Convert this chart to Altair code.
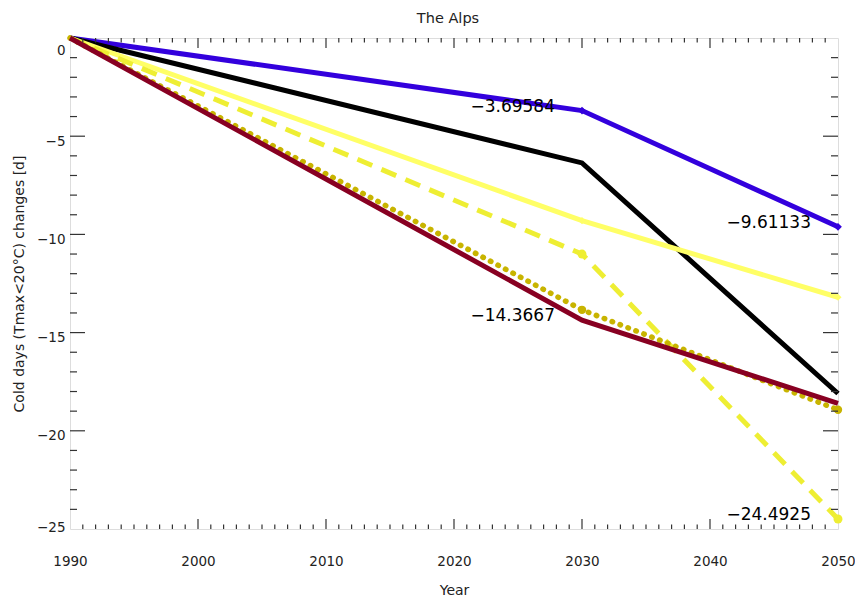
import altair as alt
import pandas as pd

# Scenario years and projected changes in cold days (Tmax < 20°C), in days
years = [1990, 2030, 2050]
blue_vals = [0.0, -3.69584, -9.61133]
black_vals = [0.0, -6.36, -18.1]
yellow_vals = [0.0, -9.3, -13.2]
yellow_dash_vals = [0.0, -11.0, -24.4925]
olive_dot_vals = [0.0, -13.84, -18.93]
red_vals = [0.0, -14.3667, -18.6]

# Values printed next to selected points
label_years = [2030, 2030, 2050, 2050]
label_vals = [-3.69584, -14.3667, -9.61133, -24.4925]

# Axis tick values
x_major = [2000, 2010, 2020, 2030, 2040]
x_minor = [y for y in range(1991, 2050) if y % 10 != 0]
y_major = [-20, -15, -10, -5]
y_minor = [v for v in range(-24, 0) if v % 5 != 0]
x_labels = [1990, 2000, 2010, 2020, 2030, 2040, 2050]
y_labels = [-25, -20, -15, -10, -5, 0]

chart_title = ["The Alps"]

W, H = 768, 491
FONT = "DejaVu Sans"

x_scale = alt.Scale(domain=[1990, 2050], nice=False, zero=False)
y_scale = alt.Scale(domain=[-25, 0], nice=False, zero=False)

x_axis = alt.Axis(values=x_labels, format="d", ticks=False, domain=False, grid=False,
                  labelFlush=False, labelPadding=25, labelFontSize=13.5, labelFont=FONT,
                  labelColor="#222", title="Year", titleFont=FONT, titleFontSize=14,
                  titleFontWeight="normal", titleColor="#222", titlePadding=16)
y_axis = alt.Axis(values=y_labels, ticks=False, domain=False, grid=False,
                  labelPadding=5, labelFontSize=13.5, labelFont=FONT, labelColor="#222",
                  labelFlush=True, labelOffset=5,
                  title="Cold days (Tmax<20°C) changes [d]", titleFont=FONT, titleFontSize=14,
                  titleFontWeight="normal", titleColor="#222", titlePadding=10)


def series(vals, color, dash=None, cap="butt", marker=None, msize=60, width=5):
    df = pd.DataFrame({"year": years, "value": vals})
    kw = dict(color=color, strokeWidth=width, strokeCap=cap, strokeJoin="miter")
    if dash:
        kw["strokeDash"] = dash
    line = alt.Chart(df).mark_line(**kw).encode(
        x=alt.X("year:Q", scale=x_scale, axis=x_axis),
        y=alt.Y("value:Q", scale=y_scale, axis=y_axis),
    )
    if marker is None:
        return [line]
    pts = alt.Chart(df[df["year"] > 1990]).mark_point(
        shape=marker, filled=True, color=color, size=msize, opacity=1
    ).encode(x=alt.X("year:Q", scale=x_scale), y=alt.Y("value:Q", scale=y_scale))
    return [line, pts]


layers = []
layers += series(blue_vals, "#3300dd", marker="diamond", msize=60)
layers += series(black_vals, "#000000")
layers += series(yellow_vals, "#ffff66", marker="diamond", msize=50)
layers += series(yellow_dash_vals, "#eeee33", dash=[16, 10], marker="circle", msize=80)
layers += series(olive_dot_vals, "#c8b400", dash=[0.5, 8], cap="round", marker="circle",
                 msize=70, width=5.5)
layers += series(red_vals, "#880022")

labels_df = pd.DataFrame({
    "year": label_years,
    "value": label_vals,
    "text": [f"{v:g}".replace("-", "\u2212") for v in label_vals],
})
labels = alt.Chart(labels_df).mark_text(
    align="right", baseline="middle", dx=-27, dy=-4, font=FONT, fontSize=17, color="black"
).encode(x=alt.X("year:Q", scale=x_scale), y=alt.Y("value:Q", scale=y_scale), text="text:N")
layers.append(labels)

# Plot title drawn above the frame
title_mark = alt.Chart(pd.DataFrame({"t": chart_title})).mark_text(
    align="center", baseline="middle", font=FONT, fontSize=14.5, color="#222"
).encode(x=alt.value(W / 2 - 6), y=alt.value(-19), text="t:N")
layers.append(title_mark)


def tick_layer(vals, channel, start, end):
    df = pd.DataFrame({"v": vals})
    if channel == "y":
        enc = dict(y=alt.Y("v:Q", scale=y_scale), x=alt.value(start), x2=alt.value(end))
    else:
        enc = dict(x=alt.X("v:Q", scale=x_scale), y=alt.value(start), y2=alt.value(end))
    return alt.Chart(df).mark_rule(color="#333", strokeWidth=1.2).encode(**enc)


# Inward-pointing ticks on all four sides of the frame
layers += [
    tick_layer(y_minor, "y", 0, 7), tick_layer(y_major, "y", 0, 15),
    tick_layer(y_minor, "y", W - 7, W), tick_layer(y_major, "y", W - 15, W),
    tick_layer(x_minor, "x", H - 4.5, H), tick_layer(x_major, "x", H - 10, H),
    tick_layer(x_minor, "x", 0, 4.5), tick_layer(x_major, "x", 0, 10),
]

chart = alt.layer(*layers).properties(
    width=W, height=H,
    autosize=alt.AutoSizeParams(type="none"),
    padding={"left": 70, "top": 38, "right": 17, "bottom": 72},
).configure_view(stroke="#444", strokeWidth=1.5).configure(background="white")

chart.save("out.html", embed_options={"renderer": "svg", "actions": False})
